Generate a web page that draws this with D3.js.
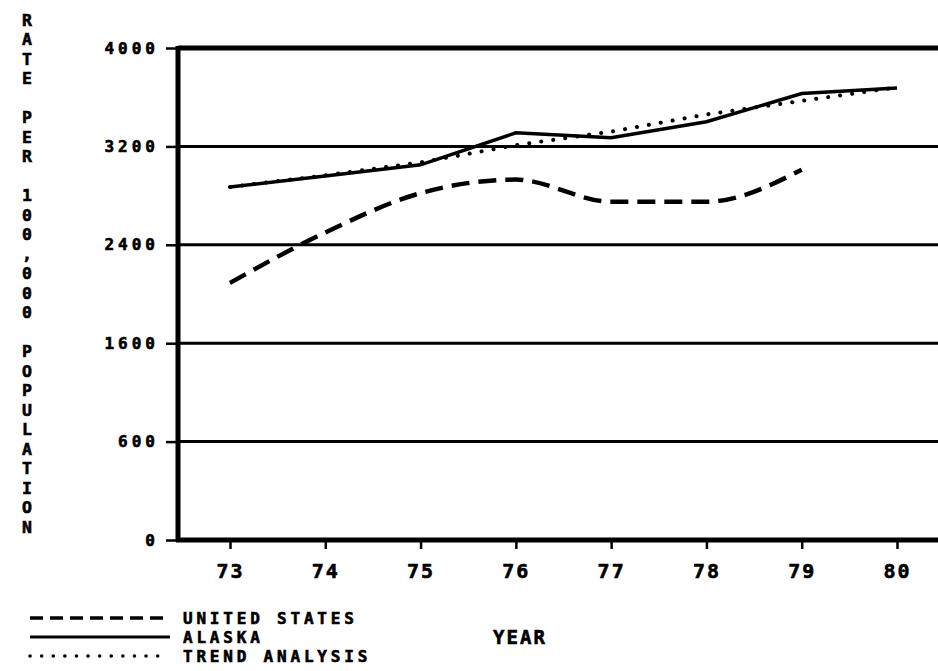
<!DOCTYPE html>
<html>
<head>
    <meta charset="utf-8">
    <title>Rate per 100,000 population</title>
    <script type="text/javascript" src="https://cdn.jsdelivr.net/npm/d3@7"></script>
    <style type="text/css">
        body { margin: 0; background: #fff; }
        text {
            font-family: "DejaVu Sans Mono", "Liberation Mono", monospace;
            font-weight: bold;
            fill: #000;
            stroke: #000;
            stroke-width: 0.6;
        }
        .grid line { stroke: #000; stroke-width: 3; }
        .axis .domain { display: none; }
        .axis line { stroke: #000; stroke-width: 2.5; }
        .series { fill: none; stroke: #000; }
    </style>
</head>
<body>
<script type="text/javascript">
    var w = 938, h = 671;

    var years = [73, 74, 75, 76, 77, 78, 79, 80];
    var unitedStates = [2090, 2500, 2820, 2930, 2750, 2750, 3010];
    var alaska = [2870, 2960, 3050, 3310, 3270, 3400, 3630, 3675];
    var trend = [2870, 2965, 3070, 3210, 3320, 3460, 3570, 3680];

    var yTicks = [0, 800, 1600, 2400, 3200, 4000];
    var yTickLabels = ["0", "600", "1600", "2400", "3200", "4000"];
    var yTitle = "RATE PER 100,000 POPULATION";
    var legendNames = ["UNITED STATES", "ALASKA", "TREND ANALYSIS"];

    var plotLeft = 178, plotRight = 940, plotTop = 48, plotBottom = 540;

    var x = d3.scaleLinear().domain([73, 80]).range([230, 897]),
        y = d3.scaleLinear().domain([0, 4000]).range([plotBottom, plotTop]);

    var svg = d3.select("body")
        .append("svg")
            .attr("width", w)
            .attr("height", h);

    // horizontal grid lines
    svg.append("g")
        .attr("class", "grid")
        .selectAll("line")
        .data(yTicks.slice(1))
        .enter().append("line")
            .attr("x1", plotLeft)
            .attr("x2", plotRight)
            .attr("y1", function (d) {return y(d);})
            .attr("y2", function (d) {return y(d);})
            .style("stroke-width", function (d) {return d === 4000 ? 5 : 3;});

    var yAxis = d3.axisLeft(y)
        .tickValues(yTicks)
        .tickSize(12)
        .tickPadding(7)
        .tickFormat(function (d, i) {return yTickLabels[i];});

    svg.append("g")
        .attr("class", "axis")
        .attr("transform", "translate(" + plotLeft + ",0)")
        .call(yAxis)
        .selectAll("text")
            .style("font-size", "16px")
            .style("letter-spacing", "4px");

    var xAxis = d3.axisBottom(x)
        .tickValues(years)
        .tickSize(9)
        .tickPadding(15)
        .tickFormat(function (d) {return d;});

    svg.append("g")
        .attr("class", "axis")
        .attr("transform", "translate(0," + plotBottom + ")")
        .call(xAxis)
        .selectAll("text")
            .style("font-size", "20px")
            .style("letter-spacing", "2px");

    // frame: left and bottom axis lines
    svg.append("line")
        .attr("x1", plotLeft).attr("x2", plotLeft)
        .attr("y1", plotTop - 2).attr("y2", plotBottom + 2)
        .style("stroke", "#000").style("stroke-width", 5);
    svg.append("line")
        .attr("x1", plotLeft - 2).attr("x2", plotRight)
        .attr("y1", plotBottom).attr("y2", plotBottom)
        .style("stroke", "#000").style("stroke-width", 5);

    var line = d3.line()
        .x(function (d, i) {return x(years[i]);})
        .y(function (d) {return y(d);});

    svg.append("path")
        .datum(trend)
        .attr("class", "series")
        .attr("d", line)
        .style("stroke-width", 4)
        .style("stroke-linecap", "round")
        .style("stroke-dasharray", "0.1,12");

    svg.append("path")
        .datum(alaska)
        .attr("class", "series")
        .attr("d", line)
        .style("stroke-width", 3.5);

    svg.append("path")
        .datum(unitedStates)
        .attr("class", "series")
        .attr("d", line.curve(d3.curveMonotoneX))
        .style("stroke-width", 4.5)
        .style("stroke-dasharray", "18,9");

    // vertical axis title, one letter per row
    svg.append("g")
        .selectAll("text")
        .data(yTitle.split(""))
        .enter().append("text")
            .attr("x", 27)
            .attr("y", function (d, i) {return 20 + i * 19.5;})
            .attr("text-anchor", "middle")
            .attr("dominant-baseline", "central")
            .style("font-size", "16.5px")
            .text(function (d) {return d;});

    svg.append("text")
        .attr("x", 520)
        .attr("y", 644)
        .attr("text-anchor", "middle")
        .style("font-size", "19px")
        .style("letter-spacing", "2px")
        .text("YEAR");

    // legend
    var legendStyles = [
        {width: 3.5, dash: "13,7", cap: "butt"},
        {width: 3, dash: null, cap: "butt"},
        {width: 3.5, dash: "0.1,11.5", cap: "round"}
    ];

    var legend = svg.append("g")
        .selectAll("g")
        .data(legendNames)
        .enter().append("g")
            .attr("transform", function (d, i) {return "translate(0," + (618 + i * 19) + ")";});

    legend.append("line")
        .attr("x1", 30)
        .attr("x2", function (d, i) {return i === 1 ? 170 : 163;})
        .attr("y1", 0).attr("y2", 0)
        .style("stroke", "#000")
        .style("stroke-width", function (d, i) {return legendStyles[i].width;})
        .style("stroke-dasharray", function (d, i) {return legendStyles[i].dash;})
        .style("stroke-linecap", function (d, i) {return legendStyles[i].cap;});

    legend.append("text")
        .attr("x", 183)
        .attr("y", 6)
        .style("font-size", "16px")
        .style("letter-spacing", "3.8px")
        .text(function (d) {return d;});
</script>
</body>
</html>
